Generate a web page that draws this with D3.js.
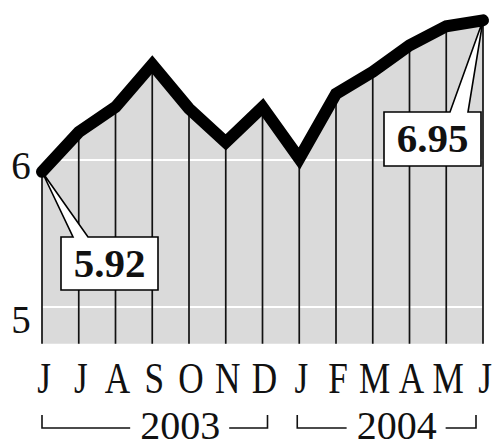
<!DOCTYPE html>
<html>
<head>
<meta charset="utf-8">
<script src="https://cdn.jsdelivr.net/npm/d3@7"></script>
<style>
  html, body { margin: 0; padding: 0; background: #ffffff; }
  svg { display: block; }
  text { font-family: "Liberation Serif", "DejaVu Serif", serif; fill: #111; }
</style>
</head>
<body>
<div id="chart"></div>
<script>
// ---- data ----
const months = ["J","J","A","S","O","N","D","J","F","M","A","M","J"];
const rates  = [5.92, 6.19, 6.36, 6.65, 6.35, 6.12, 6.36, 6.01, 6.45, 6.60, 6.78, 6.91, 6.95];
const yTicks = [5, 6];
const yearLabels = ["2003", "2004"];
const yearSpans = [[0, 6], [7, 12]];
const callouts = [
  { index: 0,  label: "5.92" },
  { index: 12, label: "6.95" }
];

// ---- layout ----
const W = 494, H = 448;
const svg = d3.select("#chart").append("svg").attr("width", W).attr("height", H);

const x = d3.scaleLinear().domain([0, months.length - 1]).range([42, 483]);
const y = d3.scaleLinear().domain([4.75, 6]).range([343.75, 160]);

const data = rates.map((v, i) => ({ i, v }));

// area
const area = d3.area().x(d => x(d.i)).y0(y(4.75)).y1(d => y(d.v));
svg.append("path").datum(data).attr("d", area).attr("fill", "#dadada");

// white gridlines
svg.selectAll(".grid").data(yTicks).enter().append("line")
  .attr("x1", x(0)).attr("x2", x(12))
  .attr("y1", d => y(d)).attr("y2", d => y(d))
  .attr("stroke", "#ffffff").attr("stroke-width", 2.2);

// vertical month lines
svg.selectAll(".vline").data(data).enter().append("line")
  .attr("x1", d => x(d.i)).attr("x2", d => x(d.i))
  .attr("y1", y(4.75)).attr("y2", d => y(d.v))
  .attr("stroke", "#111").attr("stroke-width", 1.7);

// thick line
const line = d3.line().x(d => x(d.i)).y(d => y(d.v));
svg.append("path").datum(data).attr("d", line)
  .attr("fill", "none").attr("stroke", "#000")
  .attr("stroke-width", 12).attr("stroke-linejoin", "miter")
  .attr("stroke-miterlimit", 3).attr("stroke-linecap", "round");

// y labels
svg.selectAll(".ylab").data(yTicks).enter().append("text")
  .attr("x", 21).attr("y", d => y(d) + (d === 6 ? 19 : 26))
  .attr("text-anchor", "middle").attr("font-size", 39)
  .text(d => d);

// month labels
svg.selectAll(".mlab").data(months).enter().append("text")
  .attr("transform", (d, i) => `translate(${x(i) + 2},393) scale(0.8,1)`)
  .attr("text-anchor", "middle").attr("font-size", 44)
  .text(d => d);

// year brackets
const yearText = [x(3.76), x(9.65)];
yearSpans.forEach((s, k) => {
  const x0 = x(s[0]) + (k === 0 ? 0 : -2);
  const x1 = x(s[1]) + (k === 0 ? 5 : -7);
  const tx = yearText[k];
  const t = svg.append("text").attr("x", tx).attr("y", 439)
    .attr("text-anchor", "middle").attr("font-size", 40)
    .text(yearLabels[k]);
  const bb = t.node().getBBox();
  const g = svg.append("g").attr("stroke", "#111").attr("stroke-width", 1.6).attr("fill", "none");
  g.append("path").attr("d", `M${x0},415 V428 H${bb.x - 10}`);
  g.append("path").attr("d", `M${bb.x + bb.width + 9},428 H${x1} V415`);
});

// callouts
const boxSpec = [
  { bx: 61,  by: 237, bw: 97, bh: 53, w0: 73,  w1: 88 },
  { bx: 384, by: 112, bw: 97, bh: 54, w0: 450, w1: 468 }
];
callouts.forEach((c, k) => {
  const b = boxSpec[k];
  const px = x(c.index), py = y(rates[c.index]);
  const p = `M${b.bx},${b.by} H${b.w0} L${px},${py} L${b.w1},${b.by} H${b.bx + b.bw} V${b.by + b.bh} H${b.bx} Z`;
  svg.append("path").attr("d", p).attr("fill", "#fff")
    .attr("stroke", "#000").attr("stroke-width", 1.6).attr("stroke-linejoin", "miter");
  svg.append("text").attr("x", b.bx + b.bw / 2).attr("y", b.by + 40)
    .attr("text-anchor", "middle").attr("font-size", 41).attr("font-weight", "bold")
    .text(c.label);
});
</script>
</body>
</html>
